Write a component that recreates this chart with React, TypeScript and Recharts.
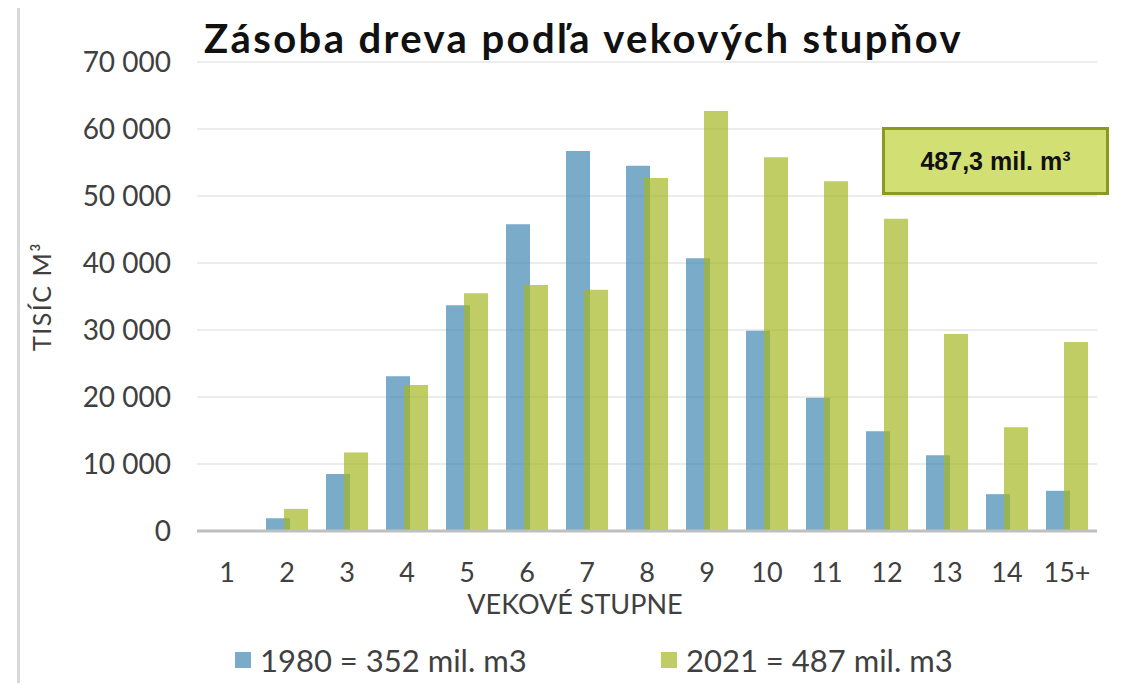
import React from "react";
import { BarChart, Bar, XAxis, YAxis, CartesianGrid } from "recharts";

const categories = ["1", "2", "3", "4", "5", "6", "7", "8", "9", "10", "11", "12", "13", "14", "15+"];
const values1980 = [0, 1900, 8500, 23100, 33700, 45800, 56700, 54500, 40700, 29900, 19900, 14900, 11300, 5500, 6000];
const values2021 = [0, 3300, 11700, 21800, 35500, 36700, 36000, 52700, 62700, 55800, 52200, 46600, 29400, 15500, 28200];
const yTicks = [0, 10000, 20000, 30000, 40000, 50000, 60000, 70000];

const data = categories.map((c, i) => ({ cat: c, y1980: values1980[i], y2021: values2021[i] }));

const FONT = "Lato, 'Open Sans', sans-serif";
const fmt = (v: number) => v.toLocaleString("en-US").replace(/,/g, " ");

function LegendBox() {
  const item = (color: string, text: string, left: number) => (
    <div style={{ position: "absolute", left, top: 0, display: "flex", alignItems: "center", whiteSpace: "nowrap" }}>
      <div style={{ width: 16, height: 16, background: color, marginRight: 9 }} />
      <span>{text}</span>
    </div>
  );
  return (
    <div
      style={{
        position: "absolute",
        left: 227,
        top: 633,
        width: 800,
        height: 40,
        fontFamily: FONT,
        fontSize: 31,
        color: "#404040",
      }}
    >
      {item("rgba(65,136,176,0.7)", "1980 = 352 mil. m3", 0)}
      {item("rgba(165,182,34,0.7)", "2021 = 487 mil. m3", 426)}
    </div>
  );
}

export default function App() {
  return (
    <div style={{ position: "relative", width: 1106, height: 675, background: "#fff" }}>
      <div
        style={{
          position: "absolute",
          left: 9,
          top: -4,
          right: -8,
          bottom: -8,
          borderLeft: "3px solid #d9d9d9",
          borderTop: "3px solid #d9d9d9",
        }}
      />
      <div
        style={{
          position: "absolute",
          left: 196,
          top: 6,
          fontFamily: FONT,
          fontWeight: 700,
          fontSize: 40,
          letterSpacing: 2.4,
          color: "#111",
          whiteSpace: "nowrap",
        }}
      >
        Zásoba dreva podľa vekových stupňov
      </div>
      <BarChart
        width={1106}
        height={675}
        data={data}
        margin={{ top: 54, right: 17, left: 0, bottom: 0 }}
        barSize={24}
        barGap={-6}
      >
        <CartesianGrid vertical={false} stroke="#ececec" strokeWidth={2} />
        <XAxis
          dataKey="cat"
          height={152}
          axisLine={{ stroke: "#bfbfbf", strokeWidth: 3 }}
          tickLine={false}
          tickMargin={26}
          tick={{ fontFamily: FONT, fontSize: 27, fill: "#404040" }}
          interval={0}
          label={{
            value: "VEKOVÉ STUPNE",
            position: "insideTop",
            offset: 64,
            dx: -72,
            style: { fontFamily: FONT, fontSize: 27, fill: "#404040" },
          }}
        />
        <YAxis
          width={189}
          domain={[0, 70000]}
          ticks={yTicks}
          axisLine={false}
          tickLine={false}
          tickMargin={20}
          tickFormatter={fmt}
          tick={{ fontFamily: FONT, fontSize: 28, fill: "#404040" }}
          label={{
            value: "TISÍC M³",
            angle: -90,
            position: "insideLeft",
            offset: 34,
            style: { fontFamily: FONT, fontSize: 25, letterSpacing: 1.5, fill: "#404040", textAnchor: "middle" },
          }}
        />
        <Bar dataKey="y1980" fill="rgb(65,136,176)" fillOpacity={0.7} isAnimationActive={false} />
        <Bar dataKey="y2021" fill="rgb(165,182,34)" fillOpacity={0.7} isAnimationActive={false} />
      </BarChart>
      <LegendBox />
      <div
        style={{
          position: "absolute",
          left: 874,
          top: 119,
          width: 221,
          height: 62,
          background: "#d2df72",
          border: "3px solid #8a9a20",
          display: "flex",
          alignItems: "center",
          justifyContent: "center",
          fontFamily: "'Liberation Sans', Arial, sans-serif",
          fontWeight: 700,
          fontSize: 25,
          color: "#111",
        }}
      >
        487,3 mil. m³
      </div>
    </div>
  );
}
